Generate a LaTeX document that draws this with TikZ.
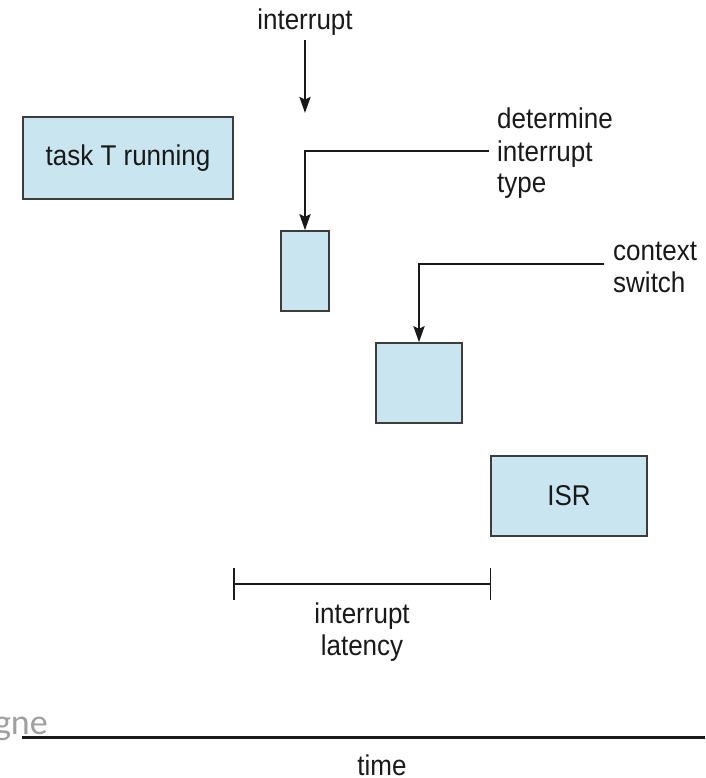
\documentclass[tikz,border=0pt]{standalone}
\usepackage{fontspec}
\setmainfont{Liberation Sans}
\newfontfamily\slidefont{Carlito}
\usetikzlibrary{positioning}
\usetikzlibrary{arrows.meta}
\definecolor{boxblue}{RGB}{201,230,240}
\definecolor{boxline}{RGB}{60,60,60}
\definecolor{ink}{RGB}{25,25,25}
\newcommand{\alto}[1]{\scalebox{1}[1.1]{#1}}

\begin{document}
\begin{tikzpicture}[x=1pt, y=-1pt,
    every node/.style={font=\fontsize{26}{32}\selectfont, text=ink},
    caja/.style={draw=boxline, line width=1.5pt, fill=boxblue, inner sep=0pt},
    etiqueta/.style={align=left, inner sep=0pt, anchor=base west},
    flecha/.style={-{Stealth[length=16pt,width=11pt,inset=2.5pt]}, line width=2.5pt, draw=ink}]
              \useasboundingbox (0,0) rectangle (705,778);

              % Cajas
              \node[caja, minimum width=210pt, minimum height=82pt] (tarea) at (128,158) {\alto{task T running}};
              \node[caja, minimum width=48pt, minimum height=80pt] (tipo) at (305,271) {};
              \node[caja, minimum width=86pt, minimum height=80pt] (contexto) at (419,383) {};
              \node[caja, minimum width=156pt, minimum height=80pt] (isr) at (569,496) {\alto{ISR}};

              % Textos
              \node[anchor=base, inner sep=0pt] (interrupcion) at (305,30) {\alto{interrupt}};
              \node[etiqueta] (determina) at (497,193) {\alto{determine}\\\alto{interrupt}\\\alto{type}};
              \node[etiqueta] (cambio) at (613,292) {\alto{context}\\\alto{switch}};
              \node[align=center, anchor=base, inner sep=0pt] (latencia) at (362,655) {\alto{interrupt}\\\alto{latency}};
              \node[anchor=base, inner sep=0pt] (tiempo) at (382,775) {\alto{time}};
              \node[anchor=base east, inner sep=0pt, text=gray!75,
                    font=\slidefont\fontsize{36}{40}\selectfont] (resto) at (48,734) {gne};

              % Puntos libres
              \coordinate (llega) at (305,113);
              \coordinate (detsal) at (489,151);
              \coordinate (camsal) at (604,264);
              \coordinate (latizq) at (233,584);
              \coordinate (latder) at (491,584);
              \coordinate (tizq) at (22,737);
              \coordinate (tder) at (705,737);

              % Flechas
              \draw[flecha, shorten <=4pt] (interrupcion) -- (llega);
              \draw[flecha] (detsal) -| (tipo.north);
              \draw[flecha] (camsal) -| (contexto.north);
              \draw[{Bar[width=32pt]}-{Bar[width=32pt]}, line width=1.5pt, draw=ink] (latizq) -- (latder);
              \draw[line width=3pt, draw=ink] (tizq) -- (tder);
            \end{tikzpicture}
\end{document}
